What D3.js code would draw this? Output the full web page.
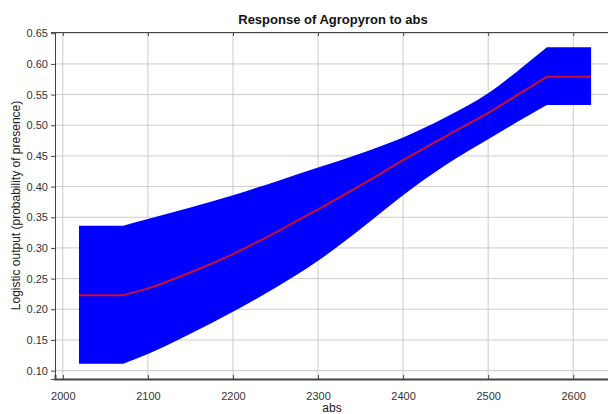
<!DOCTYPE html>
<html>
<head>
<meta charset="utf-8">
<script src="https://cdn.jsdelivr.net/npm/d3@7"></script>
<style>
  body { margin: 0; background: #fff; }
  text { font-family: "Liberation Sans", Arial, sans-serif; }
</style>
</head>
<body>
<svg id="chart"></svg>
<script>
// data
const absValues = [2019, 2071, 2100, 2150, 2200, 2250, 2300, 2350, 2400, 2450, 2500, 2535, 2569, 2621];
const meanValues = [0.223, 0.223, 0.234, 0.260, 0.290, 0.325, 0.363, 0.402, 0.443, 0.482, 0.520, 0.550, 0.579, 0.579];
const upperValues = [0.336, 0.336, 0.347, 0.366, 0.386, 0.408, 0.431, 0.454, 0.480, 0.513, 0.552, 0.589, 0.627, 0.627];
const lowerValues = [0.111, 0.111, 0.127, 0.160, 0.196, 0.235, 0.279, 0.331, 0.386, 0.435, 0.477, 0.506, 0.533, 0.533];
const xTicks = [2000, 2100, 2200, 2300, 2400, 2500, 2600];
const yTicks = [0.10, 0.15, 0.20, 0.25, 0.30, 0.35, 0.40, 0.45, 0.50, 0.55, 0.60, 0.65];

const width = 608, height = 414;
const margin = {top: 32, right: -3, bottom: 35, left: 55};
const innerW = width - margin.left - margin.right,
      innerH = height - margin.top - margin.bottom;

const svg = d3.select("#chart").attr("width", width).attr("height", height);

const x = d3.scaleLinear().domain([1990.8, 2644.4]).range([0, innerW]);
const y = d3.scaleLinear().domain([0.0863, 0.652]).range([innerH, 0]);

const g = svg.append("g")
  .attr("transform", "translate(" + margin.left + "," + margin.top + ")");

// grid
g.append("g").selectAll("line").data(xTicks).enter().append("line")
  .attr("x1", d => x(d)).attr("x2", d => x(d))
  .attr("y1", 0).attr("y2", innerH)
  .attr("stroke", "#cccccc");
g.append("g").selectAll("line").data(yTicks).enter().append("line")
  .attr("x1", 0).attr("x2", innerW)
  .attr("y1", d => y(d)).attr("y2", d => y(d))
  .attr("stroke", "#cccccc");

const pts = absValues.map((a, i) => ({a: a, m: meanValues[i], hi: upperValues[i], lo: lowerValues[i]}));
const n = pts.length;
// flat ends straight, curved middle smooth
const parts = [pts.slice(0, 2), pts.slice(1, n - 1), pts.slice(n - 2)];
const curves = [d3.curveLinear, d3.curveMonotoneX, d3.curveLinear];

function joined(key, order, rev) {
  return order.map(i => {
    const p = rev ? parts[i].slice().reverse() : parts[i];
    return d3.line().curve(curves[i]).x(d => x(d.a)).y(d => y(d[key]))(p);
  }).map((s, k) => k ? s.replace(/^M/, "L") : s).join("");
}

// band
g.append("path")
  .attr("fill", "#0000ff")
  .attr("d", joined("hi", [0, 1, 2], false) + joined("lo", [2, 1, 0], true).replace(/^M/, "L") + "Z");

// mean line
g.append("path")
  .attr("fill", "none")
  .attr("stroke", "#c8102e")
  .attr("stroke-width", 2)
  .attr("d", joined("m", [0, 1, 2], false));

// axes
const fmt = d3.format(".2f");
const yAxis = g.append("g")
  .call(d3.axisLeft(y).tickValues(yTicks).tickFormat(fmt).tickSize(4).tickPadding(3));
const xAxis = g.append("g")
  .attr("transform", "translate(0," + innerH + ")")
  .call(d3.axisBottom(x).tickValues(xTicks).tickFormat(d3.format("d")).tickSize(-4).tickPadding(13));
const topAxis = g.append("g")
  .call(d3.axisTop(x).tickValues(xTicks).tickFormat("").tickSize(-4));

[yAxis, xAxis, topAxis].forEach(a => {
  a.select(".domain").attr("stroke", "#444");
  a.selectAll(".tick line").attr("stroke", "#444");
  a.selectAll(".tick text").attr("fill", "#333").style("font-size", "11px");
});
xAxis.select(".domain").attr("stroke-width", 2);

// titles
svg.append("text")
  .attr("x", 333).attr("y", 24)
  .attr("text-anchor", "middle")
  .style("font-size", "13px")
  .style("font-weight", "bold")
  .attr("fill", "#111")
  .text("Response of Agropyron to abs");

svg.append("text")
  .attr("x", 332).attr("y", 412)
  .attr("text-anchor", "middle")
  .style("font-size", "12px")
  .attr("fill", "#222")
  .text("abs");

svg.append("text")
  .attr("transform", "translate(20," + (margin.top + innerH / 2) + ") rotate(-90)")
  .attr("text-anchor", "middle")
  .style("font-size", "12px")
  .attr("fill", "#222")
  .text("Logistic output (probability of presence)");
</script>
</body>
</html>
